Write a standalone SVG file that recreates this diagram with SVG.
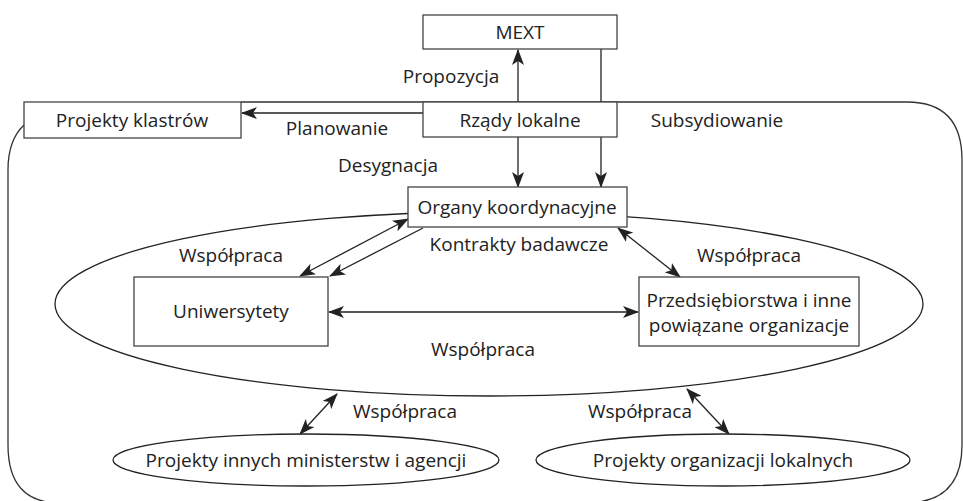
<svg xmlns="http://www.w3.org/2000/svg" width="963" height="501" viewBox="0 0 963 501">
  <defs>
    <style>
      .box { fill: #fff; stroke: #444; stroke-width: 1.3; }
      .ell { fill: #fff; stroke: #222; stroke-width: 1.3; }
      .frame { fill: none; stroke: #333; stroke-width: 1.3; }
      .link { fill: none; stroke: #222; stroke-width: 1.3; }
      .end { marker-end: url(#arrow); }
      .both { marker-start: url(#arrowStart); marker-end: url(#arrow); }
      text { font-family: "Open Sans", "Noto Sans", sans-serif; font-size: 19px; fill: #222; text-anchor: middle; dominant-baseline: central; }
    </style>
    <marker id="arrow" viewBox="0 0 16 12" refX="15" refY="6" markerWidth="16" markerHeight="12" markerUnits="userSpaceOnUse" orient="auto">
      <path d="M0,0 L16,6 L0,12 L4,6 Z" fill="#222"/>
    </marker>
    <marker id="arrowStart" viewBox="0 0 16 12" refX="1" refY="6" markerWidth="16" markerHeight="12" markerUnits="userSpaceOnUse" orient="auto">
      <path d="M16,0 L0,6 L16,12 L12,6 Z" fill="#222"/>
    </marker>
  </defs>

  <!-- outer region of the cluster -->
  <path class="frame" d="M 241,102 H 907 Q 962,102 962,160 V 445 Q 962,503 905,503 H 60 Q 8,503 8,445 V 170 Q 8,140 24,125"/>

  <!-- large cooperation ellipse -->
  <ellipse class="ell" cx="489" cy="304" rx="434" ry="92" fill="none"/>

  <g id="connectors">
    <!-- Propozycja: local government to MEXT -->
    <line class="link end" x1="518" y1="102" x2="518" y2="50"/>
    <!-- MEXT to coordinating bodies -->
    <line class="link end" x1="601" y1="49" x2="601" y2="187"/>
    <!-- Desygnacja -->
    <line class="link end" x1="518" y1="137" x2="518" y2="187"/>
    <!-- Planowanie -->
    <line class="link end" x1="423" y1="113" x2="242" y2="113"/>
    <!-- coordinating bodies and universities -->
    <line class="link both" x1="408" y1="219" x2="300" y2="276"/>
    <line class="link end" x1="423" y1="228" x2="330" y2="276"/>
    <!-- coordinating bodies and enterprises -->
    <line class="link both" x1="618" y1="228" x2="680" y2="277"/>
    <!-- universities and enterprises -->
    <line class="link both" x1="329" y1="312" x2="638" y2="312"/>
    <!-- ellipse and other projects -->
    <line class="link both" x1="337" y1="394" x2="300" y2="434"/>
    <line class="link both" x1="687" y1="389" x2="729" y2="434"/>
  </g>

  <g id="mext">
    <rect class="box" x="423" y="15" width="194" height="34"/>
    <text x="520" y="32">MEXT</text>
  </g>

  <g id="rzady">
    <rect class="box" x="423" y="102" width="194" height="35"/>
    <text x="520" y="120">Rządy lokalne</text>
  </g>

  <g id="klastry">
    <rect class="box" x="24" y="102" width="217" height="36"/>
    <text x="132" y="120">Projekty klastrów</text>
  </g>

  <g id="organy">
    <rect class="box" x="408" y="187" width="219" height="40"/>
    <text x="517" y="207">Organy koordynacyjne</text>
  </g>

  <g id="uniwersytety">
    <rect class="box" x="134" y="277" width="194" height="69"/>
    <text x="231" y="311">Uniwersytety</text>
  </g>

  <g id="przedsiebiorstwa">
    <rect class="box" x="639" y="277" width="220" height="69"/>
    <text x="749" y="300">Przedsiębiorstwa i inne</text>
    <text x="749" y="325">powiązane organizacje</text>
  </g>

  <g id="ministerstwa">
    <ellipse class="ell" cx="306" cy="460" rx="193" ry="26"/>
    <text x="306" y="460">Projekty innych ministerstw i agencji</text>
  </g>

  <g id="organizacje">
    <ellipse class="ell" cx="723" cy="460" rx="187" ry="26"/>
    <text x="723" y="460">Projekty organizacji lokalnych</text>
  </g>

  <g id="labels">
    <text x="451" y="76">Propozycja</text>
    <text x="337" y="128">Planowanie</text>
    <text x="717" y="120">Subsydiowanie</text>
    <text x="388" y="165">Desygnacja</text>
    <text x="519" y="244">Kontrakty badawcze</text>
    <text x="231" y="255">Współpraca</text>
    <text x="749" y="255">Współpraca</text>
    <text x="483" y="349">Współpraca</text>
    <text x="405" y="411">Współpraca</text>
    <text x="640" y="411">Współpraca</text>
  </g>
</svg>
